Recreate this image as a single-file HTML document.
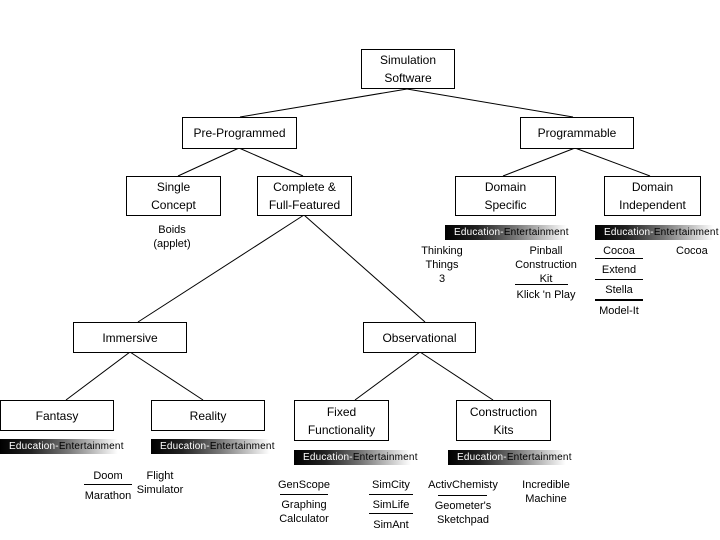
<!DOCTYPE html>
<html><head><meta charset="utf-8"><style>
html,body{margin:0;padding:0;background:#fff;}
body{width:720px;height:540px;position:relative;overflow:hidden;font-family:"Liberation Sans",sans-serif;font-size:12px;color:#000;}
.b{position:absolute;border:1px solid #000;background:#fff;box-sizing:border-box;display:flex;align-items:center;justify-content:center;text-align:center;line-height:18px;}
.t{position:absolute;text-align:center;line-height:14px;font-size:11px;white-space:nowrap;}
.e{position:absolute;height:15px;background:linear-gradient(to right,#000 0%,#222 25%,#777 55%,#fff 95%);font-size:10px;line-height:15px;padding-left:9px;box-sizing:border-box;white-space:nowrap;letter-spacing:0.2px;}
.e span.w{color:#fff}
.l{position:absolute;height:1px;background:#000;}
svg{position:absolute;left:0;top:0;}
</style></head><body>
<svg width="720" height="540" stroke="#000" stroke-width="1" fill="none">
<line x1="407" y1="89" x2="240" y2="117"/>
<line x1="407" y1="89" x2="573" y2="117"/>
<line x1="239" y1="148" x2="178" y2="176"/>
<line x1="239" y1="148" x2="303" y2="176"/>
<line x1="575" y1="148" x2="503" y2="176"/>
<line x1="575" y1="148" x2="650" y2="176"/>
<line x1="304" y1="215" x2="138" y2="322"/>
<line x1="304" y1="215" x2="425" y2="322"/>
<line x1="130" y1="352" x2="66" y2="400"/>
<line x1="130" y1="352" x2="203" y2="400"/>
<line x1="420" y1="352" x2="355" y2="400"/>
<line x1="420" y1="352" x2="493" y2="400"/>
</svg>
<div class="b" style="left:361px;top:49px;width:94px;height:40px;">Simulation<br>Software</div>
<div class="b" style="left:182px;top:117px;width:115px;height:32px;">Pre-Programmed</div>
<div class="b" style="left:520px;top:117px;width:114px;height:32px;">Programmable</div>
<div class="b" style="left:126px;top:176px;width:95px;height:40px;">Single<br>Concept</div>
<div class="b" style="left:257px;top:176px;width:95px;height:40px;">Complete &amp;<br>Full-Featured</div>
<div class="b" style="left:455px;top:176px;width:101px;height:40px;">Domain<br>Specific</div>
<div class="b" style="left:604px;top:176px;width:97px;height:40px;">Domain<br>Independent</div>
<div class="b" style="left:73px;top:322px;width:114px;height:31px;">Immersive</div>
<div class="b" style="left:363px;top:322px;width:113px;height:31px;">Observational</div>
<div class="b" style="left:0px;top:400px;width:114px;height:31px;">Fantasy</div>
<div class="b" style="left:151px;top:400px;width:114px;height:31px;">Reality</div>
<div class="b" style="left:294px;top:400px;width:95px;height:41px;">Fixed<br>Functionality</div>
<div class="b" style="left:456px;top:400px;width:95px;height:41px;">Construction<br>Kits</div>

<div class="t" style="left:142px;top:223px;width:60px;">Boids<br>(applet)</div>

<div class="e" style="left:445px;top:225px;width:128px;"><span class="w">Education-</span>Entertainment</div>
<div class="e" style="left:595px;top:225px;width:125px;"><span class="w">Education-</span>Entertainment</div>
<div class="e" style="left:0px;top:439px;width:124px;"><span class="w">Education-</span>Entertainment</div>
<div class="e" style="left:151px;top:439px;width:125px;"><span class="w">Education-</span>Entertainment</div>
<div class="e" style="left:294px;top:450px;width:123px;"><span class="w">Education-</span>Entertainment</div>
<div class="e" style="left:448px;top:450px;width:124px;"><span class="w">Education-</span>Entertainment</div>

<div class="t" style="left:412px;top:244px;width:60px;">Thinking<br>Things<br>3</div>
<div class="t" style="left:506px;top:244px;width:80px;">Pinball<br>Construction<br>Kit</div>
<div class="l" style="left:515px;top:284px;width:53px;"></div>
<div class="t" style="left:506px;top:288px;width:80px;">Klick 'n Play</div>

<div class="t" style="left:595px;top:244px;width:48px;">Cocoa</div>
<div class="t" style="left:676px;top:244px;width:30px;">Cocoa</div>
<div class="l" style="left:595px;top:258px;width:48px;"></div>
<div class="t" style="left:595px;top:263px;width:48px;">Extend</div>
<div class="l" style="left:595px;top:279px;width:48px;"></div>
<div class="t" style="left:595px;top:283px;width:48px;">Stella</div>
<div class="l" style="left:595px;top:299px;width:48px;height:2px;"></div>
<div class="t" style="left:592px;top:304px;width:54px;">Model-It</div>

<div class="t" style="left:84px;top:469px;width:48px;">Doom</div>
<div class="l" style="left:84px;top:484px;width:48px;"></div>
<div class="t" style="left:84px;top:489px;width:48px;">Marathon</div>
<div class="t" style="left:132px;top:469px;width:56px;">Flight<br>Simulator</div>

<div class="t" style="left:278px;top:478px;width:52px;">GenScope</div>
<div class="l" style="left:280px;top:494px;width:48px;"></div>
<div class="t" style="left:276px;top:498px;width:56px;">Graphing<br>Calculator</div>

<div class="t" style="left:369px;top:478px;width:44px;">SimCity</div>
<div class="l" style="left:369px;top:494px;width:44px;"></div>
<div class="t" style="left:369px;top:498px;width:44px;">SimLife</div>
<div class="l" style="left:369px;top:513px;width:44px;"></div>
<div class="t" style="left:369px;top:518px;width:44px;">SimAnt</div>

<div class="t" style="left:423px;top:478px;width:80px;">ActivChemisty</div>
<div class="l" style="left:438px;top:495px;width:49px;"></div>
<div class="t" style="left:433px;top:499px;width:60px;">Geometer's<br>Sketchpad</div>

<div class="t" style="left:511px;top:478px;width:70px;">Incredible<br>Machine</div>
</body></html>
